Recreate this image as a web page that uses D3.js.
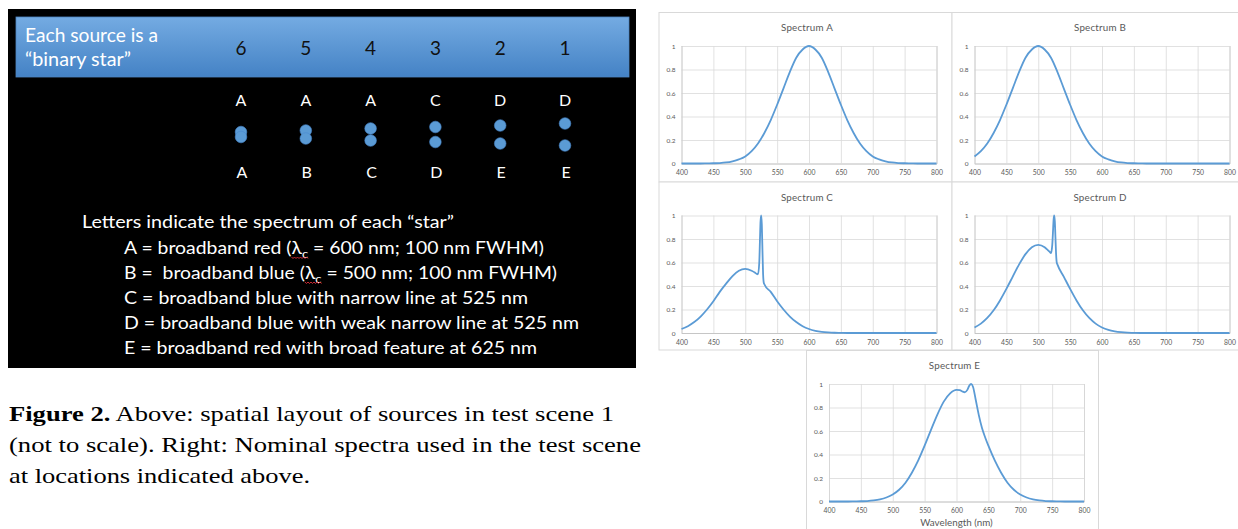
<!DOCTYPE html>
<html>
<head>
<meta charset="utf-8">
<script src="https://cdn.jsdelivr.net/npm/d3@7"></script>
<style>
  body { margin: 0; background: #fff; }
  .sans { font-family: Lato, "Open Sans", sans-serif; }
  .serif { font-family: "Liberation Serif", "Noto Serif", "Nimbus Roman", "FreeSerif", "Times New Roman", serif; }
</style>
</head>
<body>
<svg id="fig" width="1238" height="529"></svg>
<script>
// ---- slide data ----
const columns = ["6", "5", "4", "3", "2", "1"];
const topStar = ["A", "A", "A", "C", "D", "D"];
const bottomStar = ["A", "B", "C", "D", "E", "E"];
const separation = [5, 8, 12, 15, 18, 22]; // not to scale

const headerLines = ["Each source is a", "\u201Cbinary star\u201D"];
const legendTitle = "Letters indicate the spectrum of each \u201Cstar\u201D";
const legendLines = [
  ["A = broadband red (", "\u03BB", "c", " = 600 nm; 100 nm FWHM)"],
  ["B =  broadband blue (", "\u03BB", "c", " = 500 nm; 100 nm FWHM)"],
  ["C = broadband blue with narrow line at 525 nm"],
  ["D = broadband blue with weak narrow line at 525 nm"],
  ["E = broadband red with broad feature at 625 nm"]
];
const captionLines = [
  ["Figure 2.", " Above: spatial layout of sources in test scene 1"],
  ["", "(not to scale). Right: Nominal spectra used in the test scene"],
  ["", "at locations indicated above."]
];

// ---- spectra data ----
const xTicks = [400, 450, 500, 550, 600, 650, 700, 750, 800];
const yTicks = [0, 0.2, 0.4, 0.6, 0.8, 1];

const wl10 = d3.range(400, 801, 10);
const specA = [0, 0, 0, 0, 0.001, 0.002, 0.004, 0.009, 0.019, 0.035, 0.06, 0.105, 0.17, 0.26, 0.37,
  0.5, 0.64, 0.78, 0.9, 0.97, 1, 0.97, 0.9, 0.78, 0.64, 0.5, 0.37, 0.26, 0.17, 0.105, 0.06,
  0.035, 0.019, 0.009, 0.004, 0.002, 0.001, 0, 0, 0, 0];
const specB = [0.06, 0.105, 0.17, 0.26, 0.37, 0.5, 0.64, 0.78, 0.9, 0.97, 1, 0.97, 0.9, 0.78, 0.64,
  0.5, 0.37, 0.26, 0.17, 0.105, 0.06, 0.035, 0.019, 0.009, 0.004, 0.002, 0.001, 0, 0, 0, 0,
  0, 0, 0, 0, 0, 0, 0, 0, 0, 0];

const wlCD = [400, 410, 420, 430, 440, 450, 460, 470, 480, 490, 500, 510, 515, 518, 520, 522, 523,
  524, 525, 526, 527, 528, 529, 530, 540, 550, 560, 570, 580, 590, 600, 610, 620, 630, 640, 650,
  660, 670, 680, 690, 700, 710, 720, 730, 740, 750, 760, 770, 780, 790, 800];
const specC = [0.034, 0.058, 0.093, 0.14, 0.2, 0.27, 0.35, 0.42, 0.485, 0.53, 0.545, 0.53, 0.515,
  0.503, 0.5, 0.6, 0.78, 0.95, 1, 0.92, 0.7, 0.5, 0.43, 0.415, 0.35, 0.27, 0.2, 0.14, 0.093,
  0.058, 0.034, 0.019, 0.01, 0.005, 0.002, 0.001, 0, 0, 0, 0, 0, 0, 0, 0, 0, 0, 0, 0, 0, 0, 0];
const specD = [0.047, 0.08, 0.128, 0.193, 0.277, 0.375, 0.48, 0.584, 0.671, 0.73, 0.75, 0.73, 0.705,
  0.69, 0.68, 0.75, 0.85, 0.96, 1, 0.95, 0.81, 0.67, 0.6, 0.584, 0.48, 0.375, 0.277, 0.193, 0.128,
  0.08, 0.047, 0.026, 0.014, 0.007, 0.003, 0.0015, 0, 0, 0, 0, 0, 0, 0, 0, 0, 0, 0, 0, 0, 0, 0];

const wlE = [400, 410, 420, 430, 440, 450, 460, 470, 480, 490, 500, 510, 520, 530, 540, 550, 560,
  570, 580, 590, 600, 605, 610, 613, 617, 620, 623, 626, 630, 635, 640, 645, 650, 660, 670, 680,
  690, 700, 710, 720, 730, 740, 750, 760, 770, 780, 790, 800];
const specE = [0, 0, 0, 0, 0.001, 0.002, 0.004, 0.009, 0.018, 0.034, 0.06, 0.1, 0.16, 0.245, 0.35,
  0.475, 0.61, 0.74, 0.85, 0.92, 0.95, 0.948, 0.935, 0.93, 0.95, 0.985, 1, 0.975, 0.87, 0.735,
  0.625, 0.545, 0.475, 0.35, 0.245, 0.16, 0.1, 0.06, 0.034, 0.018, 0.009, 0.004, 0.002, 0.001,
  0, 0, 0, 0];

const svg = d3.select("#fig");
const defs = svg.append("defs");

// ---------- left: slide ----------
const slide = svg.append("g").attr("class", "sans");
slide.append("rect").attr("x", 8).attr("y", 9).attr("width", 628).attr("height", 359).attr("fill", "#000");

const grad = defs.append("linearGradient").attr("id", "bar")
  .attr("x1", 0).attr("y1", 0).attr("x2", 0).attr("y2", 1);
grad.append("stop").attr("offset", "0%").attr("stop-color", "#74abe2");
grad.append("stop").attr("offset", "100%").attr("stop-color", "#4482c5");
slide.append("rect").attr("x", 16).attr("y", 17).attr("width", 613).attr("height", 60)
  .attr("fill", "url(#bar)").attr("stroke", "#4f86c0").attr("stroke-width", 0.8);

slide.selectAll(".hdr").data(headerLines).join("text")
  .attr("class", "hdr")
  .attr("x", 25).attr("y", (d, i) => 42 + i * 24)
  .attr("fill", "#fff").attr("font-size", 18.5)
  .attr("textLength", (d, i) => i === 0 ? 133 : 106)
  .attr("lengthAdjust", "spacingAndGlyphs")
  .text(d => d);

const colX = d3.scalePoint().domain(columns).range([241, 565]);

slide.selectAll(".num").data(columns).join("text")
  .attr("class", "num")
  .attr("x", d => colX(d)).attr("y", 55)
  .attr("text-anchor", "middle").attr("font-size", 19).attr("fill", "#111")
  .text(d => d);

slide.selectAll(".top").data(topStar).join("text")
  .attr("class", "top")
  .attr("x", (d, i) => colX(columns[i])).attr("y", 106)
  .attr("text-anchor", "middle").attr("font-size", 16).attr("fill", "#fff")
  .text(d => d);

slide.selectAll(".bot").data(bottomStar).join("text")
  .attr("class", "bot")
  .attr("x", (d, i) => colX(columns[i]) + 1).attr("y", 178)
  .attr("text-anchor", "middle").attr("font-size", 16).attr("fill", "#fff")
  .text(d => d);

const sepScale = d3.scaleLinear().domain([0, 22]).range([0, 22]);
const dots = [];
columns.forEach((c, i) => {
  dots.push({ x: colX(c), y: 134.5 - sepScale(separation[i]) / 2 });
  dots.push({ x: colX(c), y: 134.5 + sepScale(separation[i]) / 2 });
});
slide.selectAll(".star").data(dots).join("circle")
  .attr("class", "star")
  .attr("cx", d => d.x).attr("cy", d => d.y).attr("r", 5.8)
  .attr("fill", "#5b9bd5").attr("stroke", "#4a8ad0").attr("stroke-width", 0.6);

slide.append("text")
  .attr("x", 82).attr("y", 228).attr("fill", "#fff").attr("font-size", 18)
  .attr("textLength", 372).attr("lengthAdjust", "spacingAndGlyphs")
  .text(legendTitle);

const legendEnds = [544, 557, 528, 579, 537];
legendLines.forEach((parts, i) => {
  const t = slide.append("text")
    .attr("x", 124).attr("y", 253.5 + i * 25)
    .attr("fill", "#fff").attr("font-size", 18)
    .style("white-space", "pre")
    .attr("textLength", legendEnds[i] - 124).attr("lengthAdjust", "spacingAndGlyphs");
  if (parts.length === 1) {
    t.text(parts[0]);
    return;
  }
  t.append("tspan").text(parts[0]);
  t.append("tspan").text(parts[1]);
  t.append("tspan").attr("dy", 4).attr("font-size", 12).text(parts[2]);
  t.append("tspan").attr("dy", -4).text(parts[3]);
  // red spell-check squiggle under the lambda
  const idx = parts[0].length;
  const a = t.node().getExtentOfChar(idx);
  const b = t.node().getExtentOfChar(idx + 1);
  const x0 = a.x, x1 = b.x + b.width, yy = 253.5 + i * 25 + 4;
  const pts = [];
  for (let x = x0, k = 0; x <= x1; x += 1.5, k++) pts.push([x, yy + (k % 2 ? 1 : -0.5)]);
  slide.append("path").attr("d", d3.line()(pts))
    .attr("fill", "none").attr("stroke", "#e8303a").attr("stroke-width", 0.9);
});

// ---------- caption ----------
const cap = svg.append("g").attr("class", "serif");
const capEnds = [614, 641, 310];
captionLines.forEach((parts, i) => {
  const t = cap.append("text")
    .attr("x", 9).attr("y", 421 + i * 31)
    .attr("font-size", 21.5).attr("fill", "#000")
    .attr("textLength", capEnds[i] - 9).attr("lengthAdjust", "spacingAndGlyphs");
  if (parts[0]) t.append("tspan").attr("font-weight", "bold").text(parts[0]);
  t.append("tspan").text(parts[1]);
});

// ---------- right: spectra ----------
const charts = [
  { title: "Spectrum A", wl: wl10, v: specA, fx: 659, fy: 12.5, fw: 293, fh: 169.5 },
  { title: "Spectrum B", wl: wl10, v: specB, fx: 952, fy: 12.5, fw: 293, fh: 169.5 },
  { title: "Spectrum C", wl: wlCD, v: specC, fx: 659, fy: 182, fw: 293, fh: 168 },
  { title: "Spectrum D", wl: wlCD, v: specD, fx: 952, fy: 182, fw: 293, fh: 168 },
  { title: "Spectrum E", wl: wlE, v: specE, fx: 806.5, fy: 350.5, fw: 292, fh: 185, axisTitle: "Wavelength (nm)" }
];

const pw = 255, ph = 117.5;
const x = d3.scaleLinear().domain([400, 800]).range([0, pw]);
const y = d3.scaleLinear().domain([0, 1]).range([ph, 0]);

charts.forEach(c => {
  const g = svg.append("g").attr("class", "sans");
  g.append("rect").attr("x", c.fx).attr("y", c.fy).attr("width", c.fw).attr("height", c.fh)
    .attr("fill", "#fff").attr("stroke", "#d9d9d9").attr("stroke-width", 1);

  g.append("text")
    .attr("x", c.fx + 148).attr("y", c.fy + 18.5)
    .attr("text-anchor", "middle").attr("font-size", 9.8).attr("fill", "#595959")
    .attr("letter-spacing", 0.2)
    .text(c.title);

  const p = g.append("g").attr("transform", `translate(${c.fx + 22.5},${c.fy + 33.5})`);

  p.append("g")
    .call(d3.axisLeft(y).tickValues(yTicks).tickSize(-pw).tickPadding(6).tickFormat(d3.format("~g")))
    .call(s => s.select(".domain").remove())
    .call(s => s.selectAll("line").attr("stroke", "#d9d9d9").attr("stroke-width", 0.8))
    .call(s => s.selectAll("text").attr("fill", "#595959").attr("font-size", 6.5)
      .attr("font-family", null));

  p.append("g").attr("transform", `translate(0,${ph})`)
    .call(d3.axisBottom(x).tickValues(xTicks).tickSize(-ph).tickPadding(7))
    .call(s => s.select(".domain").attr("stroke", "#bfbfbf").attr("stroke-width", 0.8))
    .call(s => s.selectAll("line").attr("stroke", "#d9d9d9").attr("stroke-width", 0.8))
    .call(s => s.selectAll("text").attr("fill", "#595959").attr("font-size", 6.8)
      .attr("font-family", null));

  p.selectAll(".tick text").style("font-family", "Lato, sans-serif");

  const line = d3.line()
    .x((d, i) => x(c.wl[i]))
    .y(d => y(d))
    .curve(d3.curveMonotoneX);
  p.append("path").datum(c.v).attr("d", line)
    .attr("fill", "none").attr("stroke", "#5b9bd5").attr("stroke-width", 1.8);

  if (c.axisTitle) {
    g.append("text")
      .attr("x", c.fx + 22.5 + pw / 2).attr("y", c.fy + 175.5)
      .attr("text-anchor", "middle").attr("font-size", 9.8).attr("fill", "#595959")
      .text(c.axisTitle);
  }
});
</script>
</body>
</html>
